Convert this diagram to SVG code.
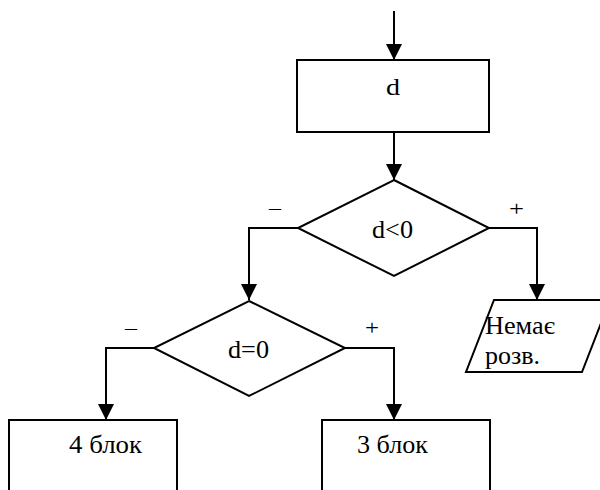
<svg xmlns="http://www.w3.org/2000/svg" width="600" height="490" viewBox="0 0 600 490">
  <style>
    .shape { fill: #fff; stroke: #000; stroke-width: 2; }
    .edge { fill: none; stroke: #000; stroke-width: 2; marker-end: url(#arrow); }
    text { font-family: 'Liberation Serif', 'DejaVu Serif', serif; fill: #000; }
  </style>
  <defs>
    <marker id="arrow" markerUnits="userSpaceOnUse" markerWidth="16" markerHeight="16" refX="16" refY="8" orient="auto">
      <path d="M0,0 L16,8 L0,16 Z" fill="#000"/>
    </marker>
  </defs>

  <rect width="600" height="490" fill="#fff"/>

  <!-- connectors -->
  <g id="connectors">
    <path class="edge" d="M394,11 L394,60"/>
    <path class="edge" d="M394,132 L394,180"/>
    <path class="edge" d="M298,228 L249,228 L249,300"/>
    <path class="edge" d="M489,228 L537,228 L537,300"/>
    <path class="edge" d="M154,348 L106,348 L106,420"/>
    <path class="edge" d="M345,348 L394,348 L394,420"/>
    <text x="269" y="215" font-size="22" textLength="12" lengthAdjust="spacingAndGlyphs">–</text>
    <text x="509" y="216" font-size="22" textLength="15" lengthAdjust="spacingAndGlyphs">+</text>
    <text x="125" y="335" font-size="22" textLength="12" lengthAdjust="spacingAndGlyphs">–</text>
    <text x="365" y="335" font-size="22" textLength="14" lengthAdjust="spacingAndGlyphs">+</text>
  </g>

  <!-- process: d -->
  <g id="node-d">
    <rect class="shape" x="297" y="60" width="192" height="72"/>
    <text x="386" y="95" font-size="24" textLength="14" lengthAdjust="spacingAndGlyphs">d</text>
  </g>

  <!-- decision: d<0 -->
  <g id="node-dlt0">
    <polygon class="shape" points="394,180 489,228 394,276 298,228"/>
    <text x="372" y="238" font-size="26" textLength="41" lengthAdjust="spacingAndGlyphs">d&lt;0</text>
  </g>

  <!-- output: no solutions -->
  <g id="node-none">
    <polygon class="shape" points="494,300 610,300 582,372 466,372"/>
    <text x="485" y="334" font-size="25" textLength="70" lengthAdjust="spacingAndGlyphs">Немає</text>
    <text x="485" y="364" font-size="25" textLength="55" lengthAdjust="spacingAndGlyphs">розв.</text>
  </g>

  <!-- decision: d=0 -->
  <g id="node-deq0">
    <polygon class="shape" points="249,301 345,348 249,396 154,348"/>
    <text x="228" y="358" font-size="26" textLength="41" lengthAdjust="spacingAndGlyphs">d=0</text>
  </g>

  <!-- block 4 -->
  <g id="node-block4">
    <rect class="shape" x="9" y="420" width="168" height="80"/>
    <text x="69" y="453" font-size="25" textLength="73" lengthAdjust="spacingAndGlyphs">4 блок</text>
  </g>

  <!-- block 3 -->
  <g id="node-block3">
    <rect class="shape" x="322" y="420" width="168" height="80"/>
    <text x="357" y="453" font-size="25" textLength="71" lengthAdjust="spacingAndGlyphs">3 блок</text>
  </g>
</svg>
